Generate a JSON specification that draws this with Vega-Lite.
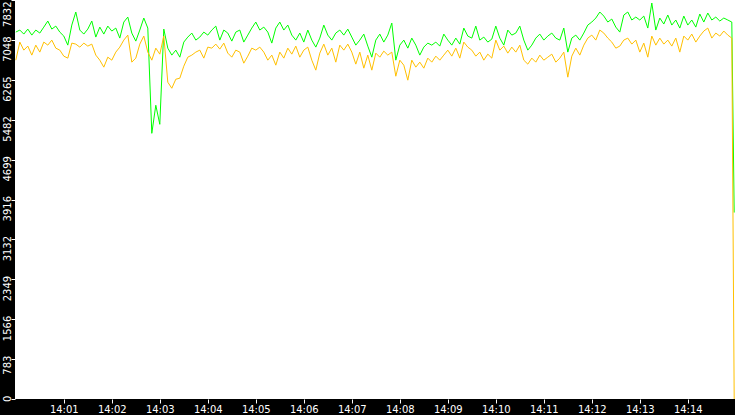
{
  "$schema": "https://vega.github.io/schema/vega-lite/v6.json",
  "width": 720,
  "height": 399,
  "autosize": "none",
  "padding": {"left": 15, "top": 0, "right": 0, "bottom": 16},
  "background": "black",
  "config": {
    "view": {"fill": "white", "stroke": null},
    "axis": {
      "labelFont": "DejaVu Sans",
      "labelFontSize": 10,
      "labelColor": "white",
      "tickColor": "white",
      "tickSize": 4,
      "tickWidth": 1,
      "domain": false,
      "grid": false,
      "title": null
    }
  },
  "data": {
    "values": [
      {"s": 0, "g": 7202, "o": 6651}, {"s": 5, "g": 7242, "o": 7006}, {"s": 10, "g": 7163, "o": 6848},
      {"s": 15, "g": 7261, "o": 6927}, {"s": 20, "g": 7143, "o": 6750}, {"s": 25, "g": 7242, "o": 6946},
      {"s": 30, "g": 7183, "o": 6809}, {"s": 35, "g": 7300, "o": 7006}, {"s": 40, "g": 7419, "o": 6946},
      {"s": 45, "g": 7261, "o": 7045}, {"s": 50, "g": 7320, "o": 6887}, {"s": 55, "g": 7202, "o": 6848},
      {"s": 60, "g": 7124, "o": 6730}, {"s": 65, "g": 6946, "o": 6691}, {"s": 70, "g": 7340, "o": 6986},
      {"s": 75, "g": 7596, "o": 6966}, {"s": 80, "g": 7242, "o": 6907}, {"s": 85, "g": 7163, "o": 6986},
      {"s": 90, "g": 7261, "o": 6927}, {"s": 95, "g": 7419, "o": 6966}, {"s": 100, "g": 7104, "o": 6750},
      {"s": 105, "g": 7300, "o": 6651}, {"s": 110, "g": 7163, "o": 6514}, {"s": 115, "g": 7320, "o": 6710},
      {"s": 120, "g": 7222, "o": 6651}, {"s": 125, "g": 7281, "o": 6809}, {"s": 130, "g": 7084, "o": 6907},
      {"s": 135, "g": 7399, "o": 7045}, {"s": 140, "g": 7497, "o": 7143}, {"s": 145, "g": 7183, "o": 6612},
      {"s": 150, "g": 7025, "o": 6691}, {"s": 155, "g": 7242, "o": 6966}, {"s": 160, "g": 7478, "o": 7124},
      {"s": 165, "g": 7281, "o": 6809}, {"s": 170, "g": 5215, "o": 6651}, {"s": 175, "g": 5766, "o": 6887},
      {"s": 180, "g": 5392, "o": 6769}, {"s": 185, "g": 7261, "o": 7124}, {"s": 190, "g": 6887, "o": 6218},
      {"s": 195, "g": 6750, "o": 6100}, {"s": 200, "g": 6848, "o": 6277}, {"s": 205, "g": 6710, "o": 6297},
      {"s": 210, "g": 7006, "o": 6533}, {"s": 215, "g": 7104, "o": 6710}, {"s": 220, "g": 7183, "o": 6750},
      {"s": 225, "g": 7045, "o": 6809}, {"s": 230, "g": 7104, "o": 6848}, {"s": 235, "g": 7202, "o": 6691},
      {"s": 240, "g": 7143, "o": 6907}, {"s": 245, "g": 7242, "o": 6887}, {"s": 250, "g": 7320, "o": 6966},
      {"s": 255, "g": 7045, "o": 6868}, {"s": 260, "g": 7242, "o": 6986}, {"s": 265, "g": 7183, "o": 6789},
      {"s": 270, "g": 7025, "o": 6710}, {"s": 275, "g": 7202, "o": 6848}, {"s": 280, "g": 7242, "o": 6809},
      {"s": 285, "g": 7006, "o": 6592}, {"s": 290, "g": 7143, "o": 6730}, {"s": 295, "g": 7281, "o": 6887},
      {"s": 300, "g": 7399, "o": 6848}, {"s": 305, "g": 7242, "o": 6907}, {"s": 310, "g": 7300, "o": 6809},
      {"s": 315, "g": 7202, "o": 6651}, {"s": 320, "g": 6986, "o": 6750}, {"s": 325, "g": 7281, "o": 6553},
      {"s": 330, "g": 7399, "o": 6809}, {"s": 335, "g": 7242, "o": 6691}, {"s": 340, "g": 7340, "o": 6887},
      {"s": 345, "g": 7143, "o": 6769}, {"s": 350, "g": 7045, "o": 6927}, {"s": 355, "g": 7183, "o": 6710},
      {"s": 360, "g": 7006, "o": 6848}, {"s": 365, "g": 7242, "o": 6907}, {"s": 370, "g": 7045, "o": 6651},
      {"s": 375, "g": 6907, "o": 6455}, {"s": 380, "g": 7084, "o": 6789}, {"s": 385, "g": 7340, "o": 6966},
      {"s": 390, "g": 7143, "o": 6750}, {"s": 395, "g": 7045, "o": 6887}, {"s": 400, "g": 7183, "o": 6612},
      {"s": 405, "g": 7242, "o": 6946}, {"s": 410, "g": 7143, "o": 6848}, {"s": 415, "g": 7261, "o": 6966},
      {"s": 420, "g": 7104, "o": 6809}, {"s": 425, "g": 6946, "o": 6573}, {"s": 430, "g": 7045, "o": 6809},
      {"s": 435, "g": 7163, "o": 6494}, {"s": 440, "g": 6927, "o": 6750}, {"s": 445, "g": 6710, "o": 6455},
      {"s": 450, "g": 7045, "o": 6789}, {"s": 455, "g": 7163, "o": 6710}, {"s": 460, "g": 7006, "o": 6828},
      {"s": 465, "g": 7143, "o": 6750}, {"s": 470, "g": 7379, "o": 6809}, {"s": 475, "g": 6651, "o": 6336},
      {"s": 480, "g": 6946, "o": 6651}, {"s": 485, "g": 7045, "o": 6553}, {"s": 490, "g": 6887, "o": 6258},
      {"s": 495, "g": 7084, "o": 6651}, {"s": 500, "g": 6946, "o": 6514}, {"s": 505, "g": 6750, "o": 6612},
      {"s": 510, "g": 6907, "o": 6494}, {"s": 515, "g": 6986, "o": 6691}, {"s": 520, "g": 6946, "o": 6612},
      {"s": 525, "g": 7006, "o": 6730}, {"s": 530, "g": 6927, "o": 6651}, {"s": 535, "g": 7163, "o": 6750},
      {"s": 540, "g": 7045, "o": 6848}, {"s": 545, "g": 6946, "o": 6730}, {"s": 550, "g": 7084, "o": 6887},
      {"s": 555, "g": 6966, "o": 6691}, {"s": 560, "g": 7281, "o": 7006}, {"s": 565, "g": 7124, "o": 6907},
      {"s": 570, "g": 7084, "o": 6848}, {"s": 575, "g": 7320, "o": 6730}, {"s": 580, "g": 7045, "o": 6809},
      {"s": 585, "g": 7104, "o": 6651}, {"s": 590, "g": 7006, "o": 6769}, {"s": 595, "g": 7064, "o": 6691},
      {"s": 600, "g": 7320, "o": 7045}, {"s": 605, "g": 7084, "o": 6848}, {"s": 610, "g": 6946, "o": 6927},
      {"s": 615, "g": 7242, "o": 6789}, {"s": 620, "g": 7143, "o": 6907}, {"s": 625, "g": 7183, "o": 6809},
      {"s": 630, "g": 7320, "o": 6946}, {"s": 635, "g": 7045, "o": 6651}, {"s": 640, "g": 6848, "o": 6573},
      {"s": 645, "g": 6946, "o": 6691}, {"s": 650, "g": 7084, "o": 6612}, {"s": 655, "g": 7163, "o": 6750},
      {"s": 660, "g": 7045, "o": 6651}, {"s": 665, "g": 7124, "o": 6710}, {"s": 670, "g": 7183, "o": 6769},
      {"s": 675, "g": 7084, "o": 6612}, {"s": 680, "g": 7045, "o": 6691}, {"s": 685, "g": 7281, "o": 6809},
      {"s": 690, "g": 6809, "o": 6317}, {"s": 695, "g": 7084, "o": 6730}, {"s": 700, "g": 7143, "o": 6887},
      {"s": 705, "g": 7045, "o": 6750}, {"s": 710, "g": 7183, "o": 6946}, {"s": 715, "g": 7340, "o": 7084},
      {"s": 720, "g": 7399, "o": 7143}, {"s": 725, "g": 7478, "o": 7045}, {"s": 730, "g": 7596, "o": 7242},
      {"s": 735, "g": 7517, "o": 7183}, {"s": 740, "g": 7399, "o": 7084}, {"s": 745, "g": 7458, "o": 7006},
      {"s": 750, "g": 7300, "o": 6887}, {"s": 755, "g": 7202, "o": 6927}, {"s": 760, "g": 7537, "o": 7045},
      {"s": 765, "g": 7596, "o": 7084}, {"s": 770, "g": 7439, "o": 6966}, {"s": 775, "g": 7497, "o": 7045},
      {"s": 780, "g": 7439, "o": 6809}, {"s": 785, "g": 7517, "o": 6986}, {"s": 790, "g": 7281, "o": 6710},
      {"s": 795, "g": 7773, "o": 7124}, {"s": 800, "g": 7242, "o": 6946}, {"s": 805, "g": 7478, "o": 7084},
      {"s": 810, "g": 7360, "o": 6966}, {"s": 815, "g": 7537, "o": 7045}, {"s": 820, "g": 7340, "o": 6927},
      {"s": 825, "g": 7439, "o": 7084}, {"s": 830, "g": 7281, "o": 6809}, {"s": 835, "g": 7517, "o": 7124},
      {"s": 840, "g": 7340, "o": 7045}, {"s": 845, "g": 7439, "o": 7163}, {"s": 850, "g": 7300, "o": 7006},
      {"s": 855, "g": 7557, "o": 7124}, {"s": 860, "g": 7399, "o": 7222}, {"s": 865, "g": 7576, "o": 7281},
      {"s": 870, "g": 7439, "o": 7084}, {"s": 875, "g": 7497, "o": 7183}, {"s": 880, "g": 7419, "o": 7124},
      {"s": 885, "g": 7478, "o": 7222}, {"s": 890, "g": 7439, "o": 7143}, {"s": 895, "g": 7399, "o": 7084},
      {"s": 898, "g": 3660, "o": 0}
    ]
  },
  "transform": [{"fold": ["g", "o"], "as": ["series", "v"]}],
  "mark": {"type": "line", "strokeWidth": 1},
  "encoding": {
    "x": {
      "field": "s",
      "type": "quantitative",
      "scale": {"domain": [-1, 899], "nice": false, "zero": false},
      "axis": {
        "values": [60, 120, 180, 240, 300, 360, 420, 480, 540, 600, 660, 720, 780, 840],
        "labelExpr": "'14:' + (datum.value < 600 ? '0' : '') + (datum.value / 60)",
        "labelPadding": 1,
        "labelBaseline": "top",
        "labelAlign": "center"
      }
    },
    "y": {
      "field": "v",
      "type": "quantitative",
      "scale": {"domain": [0, 7832], "nice": false},
      "axis": {
        "values": [0, 783.2, 1566.4, 2349.6, 3132.8, 3916, 4699.2, 5482.4, 6265.6, 7048.8, 7832],
        "labelExpr": "floor(datum.value)",
        "labelAngle": 270,
        "labelAlign": "right",
        "labelBaseline": "alphabetic",
        "labelOffset": {"condition": {"test": "datum.value > 7800", "value": 1}, "value": -4},
        "labelPadding": 1,
        "labelOverlap": false,
        "labelBound": false
      }
    },
    "color": {
      "field": "series",
      "type": "nominal",
      "scale": {"domain": ["g", "o"], "range": ["#00ff00", "#ffc000"]},
      "legend": null
    }
  }
}
